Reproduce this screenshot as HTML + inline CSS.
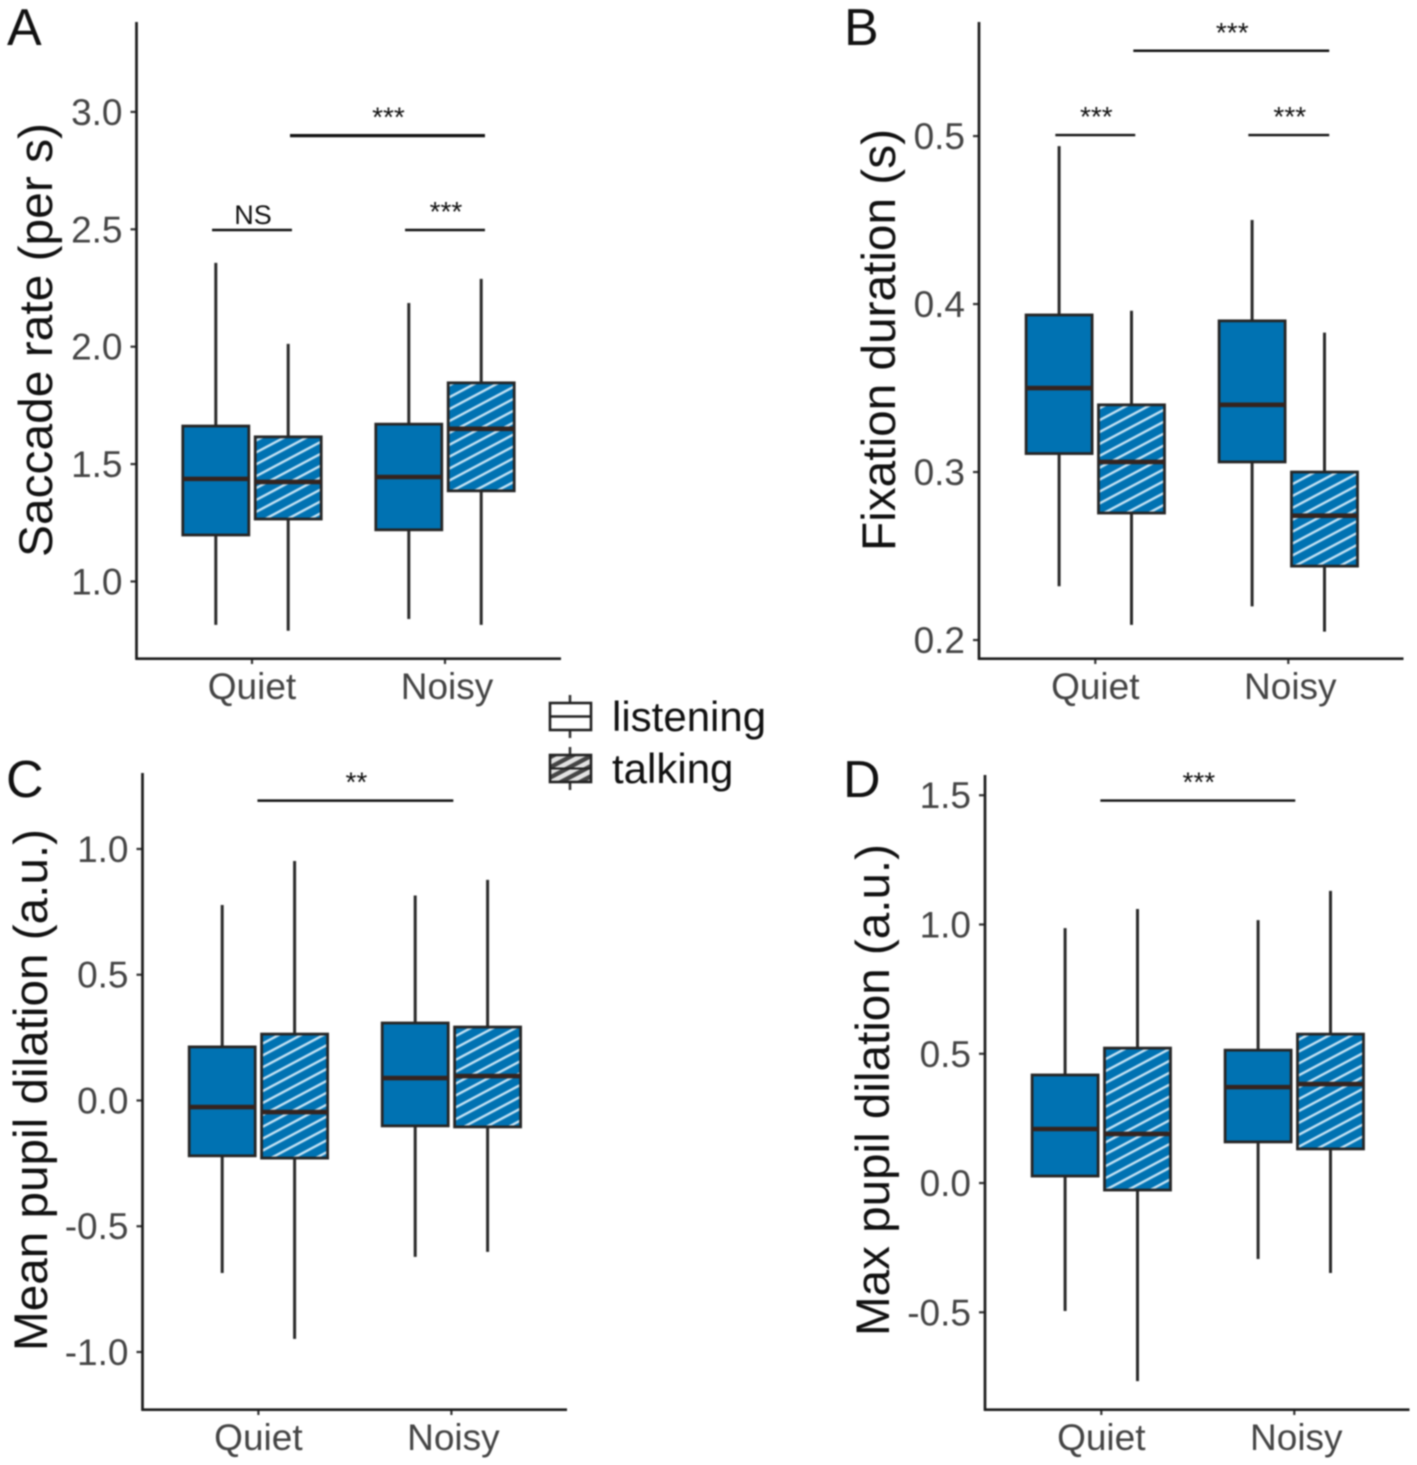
<!DOCTYPE html>
<html lang="en">
<head>
<meta charset="utf-8">
<title>Eye movement box plots</title>
<style>
html,body{margin:0;padding:0;background:#fff;}
#figure{display:block;width:1417px;height:1465px;filter:blur(0.7px);font-family:"Liberation Sans",Arial,sans-serif;}
</style>
</head>
<body>
<svg id="figure" xmlns="http://www.w3.org/2000/svg" width="1417" height="1465" viewBox="0 0 1417 1465">
  <defs>
    <pattern id="hatch-blue" patternUnits="userSpaceOnUse" width="10.5" height="10.5" patternTransform="rotate(-28)">
      <rect width="10.5" height="10.5" fill="#0072B2"></rect>
      <rect y="4" width="10.5" height="2.4" fill="#c4e2f4"></rect>
    </pattern>
    <pattern id="hatch-gray" patternUnits="userSpaceOnUse" width="9" height="9" patternTransform="rotate(-28)">
      <rect width="9" height="9" fill="#444"></rect>
      <rect y="2" width="9" height="4.6" fill="#e2e2e2"></rect>
    </pattern>
  </defs>
  <g id="panels"></g>
  <g id="legend">
    <g>
      <line x1="570" y1="695" x2="570" y2="738" stroke="#333" stroke-width="2.6"></line>
      <rect x="550" y="703" width="41" height="27" fill="#fff" stroke="#222" stroke-width="2.6"></rect>
      <line x1="550" y1="716.5" x2="591" y2="716.5" stroke="#222" stroke-width="2.6"></line>
      <text x="612" y="731" font-size="42" fill="#111">listening</text>
    </g>
    <g>
      <line x1="570" y1="747" x2="570" y2="790" stroke="#333" stroke-width="2.6"></line>
      <rect x="550" y="755" width="41" height="27" fill="url(#hatch-gray)" stroke="#222" stroke-width="2.6"></rect>
      <line x1="550" y1="768.5" x2="591" y2="768.5" stroke="#222" stroke-width="2"></line>
      <text x="612" y="783" font-size="42" fill="#111">talking</text>
    </g>
  </g>
</svg>
<script>
const categories = ['Quiet', 'Noisy'];
const conditions = ['listening', 'talking'];

// Order of each array: Quiet-listening, Quiet-talking, Noisy-listening, Noisy-talking
const saccadeLow = [0.815, 0.79, 0.84, 0.815];
const saccadeQ1 = [1.198, 1.266, 1.22, 1.386];
const saccadeMedian = [1.437, 1.424, 1.445, 1.65];
const saccadeQ3 = [1.662, 1.616, 1.67, 1.846];
const saccadeHigh = [2.357, 2.012, 2.186, 2.289];
const saccadeTicks = ['1.0', '1.5', '2.0', '2.5', '3.0'];
const saccadeDomain = [0.674, 3.383];

const fixationLow = [0.232, 0.209, 0.22, 0.205];
const fixationQ1 = [0.311, 0.2756, 0.306, 0.244];
const fixationMedian = [0.35, 0.306, 0.34, 0.274];
const fixationQ3 = [0.3935, 0.34, 0.39, 0.3];
const fixationHigh = [0.494, 0.396, 0.45, 0.383];
const fixationTicks = ['0.2', '0.3', '0.4', '0.5'];
const fixationDomain = [0.1893, 0.5679];

const meanPupilLow = [-0.686, -0.948, -0.622, -0.602];
const meanPupilQ1 = [-0.22, -0.229, -0.101, -0.105];
const meanPupilMedian = [-0.026, -0.046, 0.089, 0.097];
const meanPupilQ3 = [0.213, 0.264, 0.308, 0.292];
const meanPupilHigh = [0.777, 0.952, 0.815, 0.877];
const meanPupilTicks = ['-1.0', '-0.5', '0.0', '0.5', '1.0'];
const meanPupilDomain = [-1.2266, 1.302];

const maxPupilLow = [-0.495, -0.766, -0.294, -0.348];
const maxPupilQ1 = [0.027, -0.027, 0.159, 0.132];
const maxPupilMedian = [0.209, 0.19, 0.371, 0.383];
const maxPupilQ3 = [0.418, 0.522, 0.514, 0.576];
const maxPupilHigh = [0.986, 1.06, 1.017, 1.13];
const maxPupilTicks = ['-0.5', '0.0', '0.5', '1.0', '1.5'];
const maxPupilDomain = [-0.874, 1.5783];

// Significance brackets: from / to on the category axis (1 = Quiet, 2 = Noisy), level in y units
const saccadeSigFrom = [1.197, 0.793, 1.793];
const saccadeSigTo = [2.207, 1.207, 2.207];
const saccadeSigLevel = [2.902, 2.5, 2.5];
const saccadeSigLabel = ['***', 'NS', '***'];

const fixationSigFrom = [1.197, 0.793, 1.793];
const fixationSigTo = [2.212, 1.207, 2.212];
const fixationSigLevel = [0.5512, 0.501, 0.501];
const fixationSigLabel = ['***', '***', '***'];

const meanPupilSigFrom = [0.995];
const meanPupilSigTo = [2.01];
const meanPupilSigLevel = [1.195];
const meanPupilSigLabel = ['**'];

const maxPupilSigFrom = [0.995];
const maxPupilSigTo = [2.005];
const maxPupilSigLevel = [1.482];
const maxPupilSigLabel = ['***'];

const SVGNS = 'http://www.w3.org/2000/svg';
const root = document.getElementById('panels');

function make(parent, tag, attrs, text) {
  const el = document.createElementNS(SVGNS, tag);
  for (const k in attrs) el.setAttribute(k, attrs[k]);
  if (text !== undefined) el.textContent = text;
  parent.appendChild(el);
  return el;
}

function drawPanel(p) {
  const xScale = function (c) { return p.axisX + p.catOffset + (c - 1) * 193; };
  const yScale = function (v) {
    return p.bottom - (v - p.domain[0]) / (p.domain[1] - p.domain[0]) * (p.bottom - p.top);
  };
  const dodge = 36.2;
  const halfBox = 33;

  const g = make(root, 'g', {});
  
  

  const letter = make(g, 'text', { x: p.letterX, y: p.letterY, 'font-size': 52, fill: '#111' }, p.id);
  
  

  const title = make(g, 'text', {
    transform: 'translate(' + p.titleX + ',' + p.titleY + ') rotate(-90)',
    'text-anchor': 'middle', 'font-size': 47, fill: '#111',
    textLength: p.titleLength, lengthAdjust: 'spacingAndGlyphs'
  }, p.title);
  
  

  p.ticks.forEach(function (t) {
    const y = yScale(parseFloat(t));
    const mark = make(g, 'line', { x1: p.axisX - 6, x2: p.axisX, y1: y, y2: y, stroke: '#333', 'stroke-width': 2.2 });
    
    
    const lab = make(g, 'text', { x: p.axisX - 14, y: y + 13, 'text-anchor': 'end', 'font-size': 37, fill: '#444' }, t);
    
    
  });

  categories.forEach(function (cat, ci) {
    const cx = xScale(ci + 1);
    const mark = make(g, 'line', { x1: cx, x2: cx, y1: p.bottom, y2: p.bottom + 6, stroke: '#333', 'stroke-width': 2.2 });
    
    
    const lab = make(g, 'text', { x: cx + ci * 2, y: p.bottom + 41, 'text-anchor': 'middle', 'font-size': 37, fill: '#444' }, cat);
    
    

    conditions.forEach(function (cond, si) {
      const i = ci * 2 + si;
      const x = cx + (si === 0 ? -dodge : dodge);
      const boxG = make(g, 'g', {});
      
      

      const whisker = make(boxG, 'line', { x1: x, x2: x, y1: yScale(p.high[i]), y2: yScale(p.low[i]), stroke: '#2a2a2a', 'stroke-width': 3 });
      
      

      const top = yScale(p.q3[i]);
      const body = make(boxG, 'rect', {
        x: x - halfBox, y: top, width: halfBox * 2, height: yScale(p.q1[i]) - top,
        fill: si === 0 ? '#0072B2' : 'url(#hatch-blue)', stroke: '#262626', 'stroke-width': 2.8
      });
      
      

      const m = yScale(p.median[i]);
      const median = make(boxG, 'line', { x1: x - halfBox, x2: x + halfBox, y1: m, y2: m, stroke: '#35241f', 'stroke-width': 4.6 });
      
      
    });
  });

  const yAxis = make(g, 'line', { x1: p.axisX, x2: p.axisX, y1: p.top, y2: p.bottom + 1.7, stroke: '#1c1c1c', 'stroke-width': 2.7 });
  
  
  const xAxis = make(g, 'line', { x1: p.axisX - 1, x2: p.axisX + 424.5, y1: p.bottom + 0.7, y2: p.bottom + 0.7, stroke: '#1c1c1c', 'stroke-width': 2.7 });
  
  

  p.sigLabel.forEach(function (label, i) {
    const x1 = xScale(p.sigFrom[i]);
    const x2 = xScale(p.sigTo[i]);
    const y = yScale(p.sigLevel[i]) + 0.7;
    const bar = make(g, 'line', { x1: x1, x2: x2, y1: y, y2: y, stroke: '#111', 'stroke-width': i === 0 && p.sigHeavy ? 3.2 : 2.4 });
    
    
    const note = make(g, 'text', {
      x: (x1 + x2) / 2 + 1, y: y - (label === 'NS' ? 6 : 9), 'text-anchor': 'middle',
      'font-size': label === 'NS' ? 27 : 28, fill: '#111'
    }, label);
    
    
  });
}

drawPanel({
  id: 'A', title: 'Saccade rate (per s)', axisX: 136.5, catOffset: 115.5, top: 22, bottom: 658,
  letterX: 7, letterY: 45, titleX: 52, titleY: 340, titleLength: 434,
  domain: saccadeDomain, ticks: saccadeTicks, sigHeavy: true,
  low: saccadeLow, q1: saccadeQ1, median: saccadeMedian, q3: saccadeQ3, high: saccadeHigh,
  sigFrom: saccadeSigFrom, sigTo: saccadeSigTo, sigLevel: saccadeSigLevel, sigLabel: saccadeSigLabel
});
drawPanel({
  id: 'B', title: 'Fixation duration (s)', axisX: 979, catOffset: 116.3, top: 22, bottom: 658,
  letterX: 844, letterY: 45, titleX: 895, titleY: 340, titleLength: 422,
  domain: fixationDomain, ticks: fixationTicks, sigHeavy: false,
  low: fixationLow, q1: fixationQ1, median: fixationMedian, q3: fixationQ3, high: fixationHigh,
  sigFrom: fixationSigFrom, sigTo: fixationSigTo, sigLevel: fixationSigLevel, sigLabel: fixationSigLabel
});
drawPanel({
  id: 'C', title: 'Mean pupil dilation (a.u.)', axisX: 142.5, catOffset: 115.9, top: 773, bottom: 1409,
  letterX: 6, letterY: 797, titleX: 47, titleY: 1090, titleLength: 522,
  domain: meanPupilDomain, ticks: meanPupilTicks, sigHeavy: false,
  low: meanPupilLow, q1: meanPupilQ1, median: meanPupilMedian, q3: meanPupilQ3, high: meanPupilHigh,
  sigFrom: meanPupilSigFrom, sigTo: meanPupilSigTo, sigLevel: meanPupilSigLevel, sigLabel: meanPupilSigLabel
});
drawPanel({
  id: 'D', title: 'Max pupil dilation (a.u.)', axisX: 985, catOffset: 116.3, top: 775, bottom: 1409,
  letterX: 843, letterY: 797, titleX: 889, titleY: 1090, titleLength: 492,
  domain: maxPupilDomain, ticks: maxPupilTicks, sigHeavy: false,
  low: maxPupilLow, q1: maxPupilQ1, median: maxPupilMedian, q3: maxPupilQ3, high: maxPupilHigh,
  sigFrom: maxPupilSigFrom, sigTo: maxPupilSigTo, sigLevel: maxPupilSigLevel, sigLabel: maxPupilSigLabel
});
</script>
</body>
</html>
